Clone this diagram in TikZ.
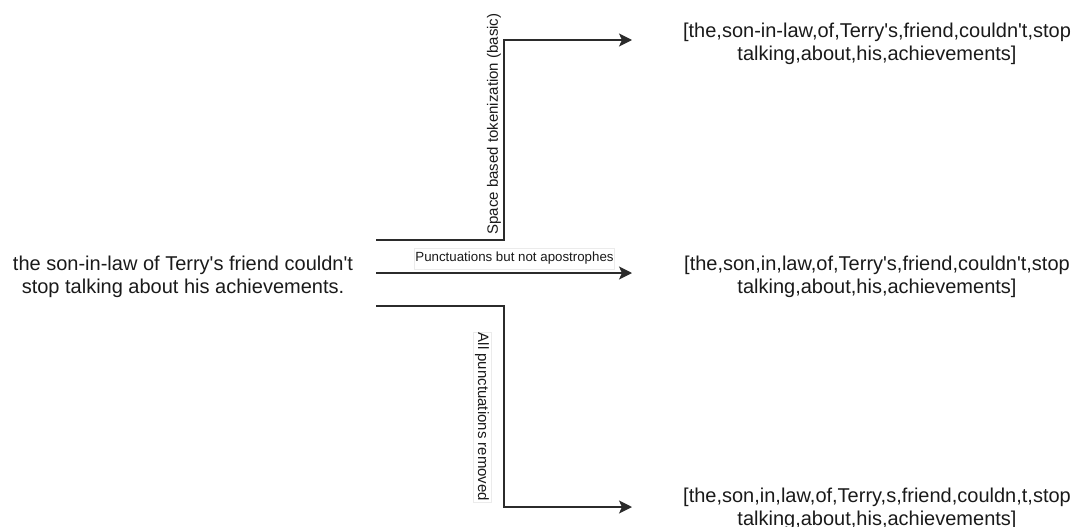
\documentclass[tikz,border=0pt]{standalone}
\usepackage{fontspec}
\setmainfont{Liberation Sans}[Ligatures=TeXOff]
\usetikzlibrary{arrows.meta}
\definecolor{ink}{HTML}{1A1A1A}
\definecolor{wire}{HTML}{2B2B2B}
\tikzset{
  txt/.style={align=center, text=ink, font=\fontsize{20}{23}\selectfont, inner sep=0pt},
  lbl/.style={fill=white, draw=black!8, line width=0.4pt, text=ink, font=\fontsize{15}{17}\selectfont, inner xsep=1pt, inner ysep=2pt},
  conn/.style={draw=wire, line width=1.5pt, -{Stealth[length=13pt,width=13pt,inset=3pt]}},
}
\begin{document}
\begin{tikzpicture}[x=1pt,y=-1pt]
\useasboundingbox (0,0) rectangle (1074,527);
\node[txt] (src) at (183,277) {the son-in-law of Terry's friend couldn't\\stop talking about his achievements.};
\node[txt] (t1) at (877,44) {[the,son-in-law,of,Terry's,friend,couldn't,stop\\talking,about,his,achievements]};
\node[txt] (t2) at (877,277) {[the,son,in,law,of,Terry's,friend,couldn't,stop\\talking,about,his,achievements]};
\node[txt] (t3) at (877,509) {[the,son,in,law,of,Terry,s,friend,couldn,t,stop\\talking,about,his,achievements]};
\node[lbl, rotate=90, draw=none] (l1) at (494,124) {Space based tokenization (basic)};
\node[lbl, font=\fontsize{13.3}{15}\selectfont, inner ysep=4pt] (l2) at (514.5,258.5) {Punctuations but not apostrophes};
\node[lbl, rotate=-90] (l3) at (482,417) {All punctuations removed};
\coordinate (s1) at (376,240);
\coordinate (s2) at (376,273);
\coordinate (s3) at (376,306);
\coordinate (e1) at (632,40);
\coordinate (e2) at (632,273);
\coordinate (e3) at (632,507);
\draw[conn] (s1) -- (504,240) -- (504,40) -- (e1);
\draw[conn] (s2) -- (e2);
\draw[conn] (s3) -- (504,306) -- (504,507) -- (e3);
\end{tikzpicture}
\end{document}
